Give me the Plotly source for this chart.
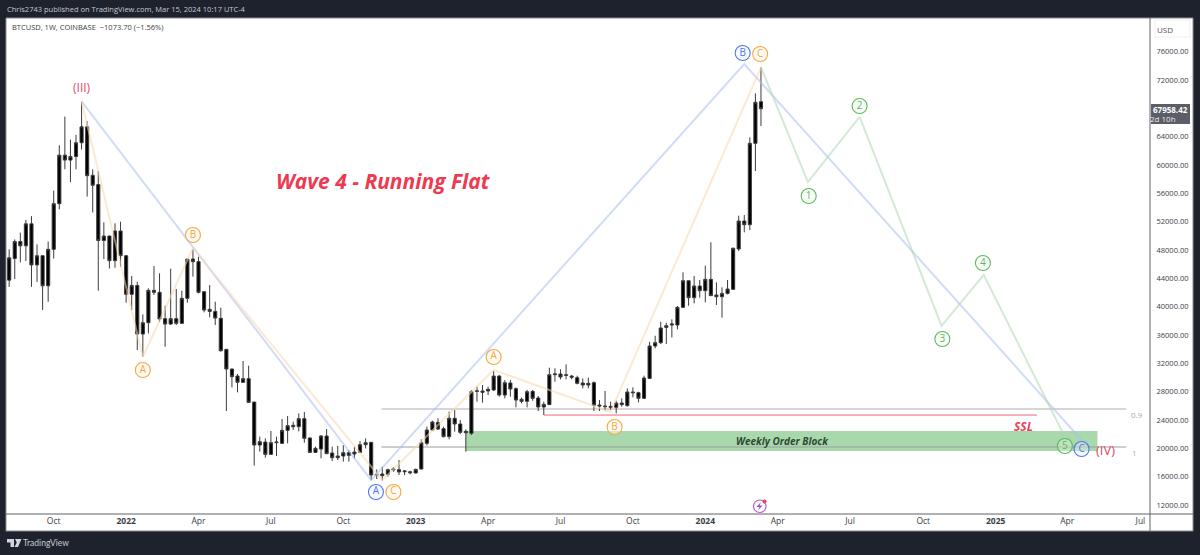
import pandas as pd
import plotly.graph_objects as go

# ---------- data ----------
first_week = "2021-08-09"
opens = [43750,46800,49200,48600,51700,45900,47200,42950,48100,54550,61400,60700,61200,63150,65400,58550,57250,49350,49980,46500,
50690,47200,41750,43000,36140,37740,42310,42030,38310,37550,38310,37650,41180,46730,46360,42120,39630,39340,38360,33980,
31200,30210,29320,29840,26540,20470,20890,19150,20800,20710,22540,23250,23060,24190,21460,19430,19900,21740,19340,18680,
18920,19390,19200,19430,20520,20850,16230,16380,16330,16940,16990,16700,16700,16520,17080,20710,22590,23670,22780,21650,
24240,23440,22210,22120,28050,28100,28100,28240,30210,27530,29230,28430,26920,26640,28050,27110,25840,26170,30400,30500,
30400,30210,29980,29230,28940,29270,26120,25980,25930,25790,26400,26030,27960,27860,27060,29880,34450,34920,37080,37410,
37410,39910,43670,41270,42920,42260,43860,41650,41410,41880,42450,48150,52100,51580,63070,68950]
closes = [46900,49200,48600,51700,45900,47200,42950,48100,54550,61400,60700,61200,63150,65400,58500,57150,49350,49980,46500,50690,
47200,41750,43000,36140,37740,42310,42030,38260,37550,38310,37650,41180,46730,46360,42030,39530,39340,38400,33790,31200,
30120,29320,29840,26490,20470,20940,19150,20800,20890,22540,23200,23060,24190,21410,19430,20000,21740,19250,18680,18920,
19390,19010,19480,20520,20800,16230,16330,16140,16990,17080,16660,16800,16560,17030,20800,22590,23720,22730,21650,24240,
23440,22260,22400,28000,28100,27910,28330,30210,27530,29270,28380,26820,26640,28000,27060,25840,26210,30400,30500,30070,
30310,30030,29180,28940,29180,26070,25980,25890,25790,26400,26170,27960,27860,27060,29930,34450,34920,36990,37320,37560,
39910,43670,41270,42920,42260,43860,41560,41410,41880,42500,48240,52100,51580,63070,68860,67958]
highs = [48100,49500,50450,52250,52800,48800,47200,49200,56400,62800,66850,63600,64250,68950,66200,59400,59150,51900,50030,51770,
52000,47300,44330,43530,38920,42590,45740,44710,40140,45370,42500,42260,46730,48100,47060,42220,43060,40710,39860,34030,
31250,30500,32330,31670,26540,21650,21410,22450,21650,24140,24560,23770,24940,25130,21550,20240,21880,22730,20240,20330,
20470,19770,20240,21040,21410,20890,17030,17410,17130,17320,18350,16940,16850,17130,21270,23060,23910,24240,23060,25180,
25410,24000,22680,28240,28710,28940,28710,30920,30360,29650,29650,28610,27160,28240,28240,27390,26590,31390,31300,31160,
31860,30360,30260,29880,29980,29460,26820,28100,26590,26730,27060,28470,28610,28000,30260,35060,35900,37880,37740,38210,
40100,44850,43670,44330,43770,45790,49090,43440,42730,43770,48380,52850,52950,63910,70130,73800]
lows = [42800,43900,46250,46450,42800,43500,39550,40700,46800,53750,59400,57600,59400,62200,55550,53300,42260,46730,45400,45500,
45650,40570,39530,33880,32940,36240,41650,37880,34350,37410,37410,37550,40570,44240,41880,39200,38500,37410,33650,25270,
28610,27910,29320,26490,17550,19530,18680,19060,18920,20610,20710,22590,22400,20800,19430,19390,18590,19200,18210,18350,
18120,18120,18590,19390,20000,15530,15670,15430,16000,16700,16230,16230,16330,16470,17030,20420,22490,22590,21550,21270,
22350,22020,19530,21880,26590,26450,27530,28100,27300,27060,27300,25790,26360,25790,26730,25270,24710,26120,29410,29740,
29740,29740,29040,28470,28470,25270,25270,25320,25410,24940,25890,25890,27200,26500,26970,29790,34120,34730,34730,35670,
36800,39810,40140,40470,41270,40610,41510,40240,38450,41740,42360,47860,50500,50830,59160,65510]

blue_x = ["2021-11-08","2022-11-07","2024-02-19","2025-04-18"]
blue_y = [69000,15500,74270,21180]
orange_x = ["2021-11-08","2022-01-24","2022-03-28","2022-11-21","2023-04-10","2023-09-04","2024-03-11"]
orange_y = [69000,32900,48290,15500,31060,25130,73800]
green_x = ["2024-03-11","2024-05-09","2024-07-13","2024-10-24","2024-12-16","2025-03-28"]
green_y = [73800,57600,66800,37300,44500,21600]

orange_lab_x = ["2022-01-24","2022-03-28","2023-04-10","2022-12-05","2023-09-09","2024-03-10"]
orange_lab_y = [31060,50120,32900,13840,23010,75680]
orange_lab = ["A","B","A","C","B","C"]
blue_lab_x = ["2022-11-13","2024-02-17","2025-04-18"]
blue_lab_y = [13840,75820,19900]
blue_lab = ["A","B","C"]
green_lab_x = ["2024-05-10","2024-07-13","2024-10-25","2024-12-15","2025-03-28"]
green_lab_y = [55630,68340,35440,46170,20330]
green_lab = ["1","2","3","4","5"]

fib_09 = 25560
fib_1 = 20190
fib_start, fib_end = "2022-11-20", "2025-06-13"
ssl_price = 24700
ssl_start, ssl_end = "2023-06-12", "2025-02-21"
block_low, block_high = 19630, 22450
block_start, block_end = "2023-03-06", "2025-05-08"

x_tick_dates = ["2021-10-04","2022-01-03","2022-04-04","2022-07-04","2022-10-03","2023-01-02","2023-04-03","2023-07-03",
                "2023-10-02","2024-01-01","2024-04-01","2024-07-01","2024-10-01","2024-12-31","2025-03-31","2025-07-01"]
x_tick_text = ["Oct","<b>2022</b>","Apr","Jul","Oct","<b>2023</b>","Apr","Jul","Oct","<b>2024</b>","Apr","Jul","Oct","<b>2025</b>","Apr","Jul"]
y_ticks = [12000,16000,20000,24000,28000,32000,36000,40000,44000,48000,52000,56000,60000,64000,72000,76000]

# ---------- styling ----------
DARK = "#1e222d"
FONT = "Open Sans"
AXTXT = "#3a3d45"
L, R, T, B = 6, 1150, 14, 514
def px(x): return (x - L) / (R - L)
def py(y): return (B - y) / (B - T)

weeks = pd.date_range(first_week, periods=len(opens), freq="7D")
fig = go.Figure()

for xs, ys, col in [(blue_x, blue_y, "rgba(170,192,240,0.55)"),
                    (orange_x, orange_y, "rgba(248,215,175,0.55)"),
                    (green_x, green_y, "rgba(175,215,175,0.55)")]:
    fig.add_trace(go.Scatter(x=xs, y=ys, mode="lines", line=dict(color=col, width=2), hoverinfo="skip", showlegend=False))

fig.add_trace(go.Candlestick(
    x=weeks, open=opens, high=highs, low=lows, close=closes,
    increasing=dict(line=dict(color="#3c3c3c", width=1), fillcolor="#000000"),
    decreasing=dict(line=dict(color="#3c3c3c", width=1), fillcolor="#000000"),
    whiskerwidth=0, hoverinfo="skip", showlegend=False))

for xs, ys, labs, col, fill in [(orange_lab_x, orange_lab_y, orange_lab, "#f5a742", "rgba(255,245,230,0.5)"),
                                (blue_lab_x, blue_lab_y, blue_lab, "#4f79e8", "rgba(235,240,255,0.4)"),
                                (green_lab_x, green_lab_y, green_lab, "#5cb85f", "rgba(235,248,235,0.35)")]:
    fig.add_trace(go.Scatter(x=xs, y=ys, mode="markers+text", text=labs, textposition="middle center",
                             textfont=dict(color=col, size=10, family=FONT),
                             marker=dict(size=15, color=fill, line=dict(color=col, width=1.1)),
                             hoverinfo="skip", showlegend=False))

shapes = [
    dict(type="rect", xref="paper", yref="paper", x0=0, x1=px(1193), y0=py(531), y1=py(18),
         fillcolor="#ffffff", line=dict(width=1, color="#8a8d94"), layer="below"),
    dict(type="rect", xref="x", yref="y", x0=block_start, x1=block_end, y0=block_low, y1=block_high,
         fillcolor="rgba(110,190,115,0.6)", line=dict(width=0), layer="below"),
    dict(type="line", xref="x", yref="y", x0=fib_start, x1=fib_end, y0=fib_09, y1=fib_09, line=dict(color="#c9c9c9", width=1.4), layer="below"),
    dict(type="line", xref="x", yref="y", x0=fib_start, x1=fib_end, y0=fib_1, y1=fib_1, line=dict(color="#9a9f9a", width=1), layer="below"),
    dict(type="line", xref="x", yref="y", x0=ssl_start, x1=ssl_end, y0=ssl_price, y1=ssl_price, line=dict(color="#f0657c", width=1), layer="below"),
    dict(type="line", xref="paper", yref="paper", x0=1, x1=1, y0=py(531), y1=py(18), line=dict(color="#60636b", width=1)),
    dict(type="line", xref="paper", yref="paper", x0=0, x1=px(1193), y0=0, y1=0, line=dict(color="#60636b", width=1)),
    # USD box
    dict(type="rect", xref="paper", yref="paper", x0=px(1155), x1=px(1190), y0=py(37), y1=py(20), fillcolor="#ffffff", line=dict(color="#f0f0f0", width=1)),
    # price tag
    dict(type="rect", xref="paper", yref="paper", x0=px(1151), x1=px(1190), y0=py(124), y1=py(104), fillcolor="#5b5d68", line=dict(width=0)),
    # alert icon
    dict(type="circle", xref="paper", yref="paper", x0=px(753.5), x1=px(766), y0=py(512.5), y1=py(500), fillcolor="#ffffff", line=dict(color="#c060d8", width=1.2)),
    dict(type="circle", xref="paper", yref="paper", x0=px(762.5), x1=px(766.5), y0=py(503.5), y1=py(499.5), fillcolor="#f04050", line=dict(width=0)),
    dict(type="path", xref="paper", yref="paper", fillcolor="#8a50c8", line=dict(width=0),
         path=f"M {px(761)} {py(502)} L {px(756.5)} {py(507)} L {px(759.5)} {py(507)} L {px(758)} {py(510.5)} L {px(762.5)} {py(505.5)} L {px(759.5)} {py(505.5)} Z"),
    # logo
    dict(type="path", xref="paper", yref="paper", fillcolor="#d1d4dc", line=dict(width=0),
         path=f"M {px(7)} {py(539)} L {px(14)} {py(539)} L {px(14)} {py(547)} L {px(10.5)} {py(547)} L {px(10.5)} {py(542.5)} L {px(7)} {py(542.5)} Z"),
    dict(type="path", xref="paper", yref="paper", fillcolor="#d1d4dc", line=dict(width=0),
         path=f"M {px(15)} {py(539)} L {px(21.5)} {py(539)} L {px(18)} {py(547)} L {px(14.5)} {py(547)} L {px(16.8)} {py(542.5)} Z"),
]

def note(text, x, y, size, color, **kw):
    return dict(xref="paper", yref="paper", x=px(x), y=py(y), text=text, showarrow=False,
                font=dict(size=size, color=color, family=kw.pop("family", FONT)),
                xanchor=kw.pop("xanchor", "center"), yanchor="middle", **kw)

annotations = [
    note("Chris2743 published on TradingView.com, Mar 15, 2024 10:17 UTC-4", 5, 9, 7.5, "#c5c8d0", xanchor="left"),
    note("BTCUSD, 1W, COINBASE  −1073.70 (−1.56%)", 9.5, 27, 7.5, "#3a3d45", xanchor="left"),
    note("<b><i>Wave 4 - Running Flat</i></b>", 383, 181, 21, "#ee3a50"),
    note("<b><i>Weekly Order Block</i></b>", 782, 441, 10, "#2d4a35"),
    note("<b><i>SSL</i></b>", 1023, 426, 12, "#ee4056"),
    note("(III)", 82, 87, 12, "#e04a64"),
    note("(IV)", 1105, 450, 13, "#e04a64"),
    note("0.9", 1137, 414, 8, "#a8a8a8"),
    note("1", 1134, 452, 8, "#a8a8a8"),
    note("USD", 1165, 29, 8, "#50535b"),
    note("<b>67958.42</b>", 1170, 109.5, 8, "#ffffff"),
    note("2d 10h", 1163, 118.5, 8, "#e8e8ea"),
    note("TradingView", 21, 543, 8.5, "#c8ccd4", xanchor="left", family="Lato"),
]

fig.update_layout(
    width=1200, height=555, autosize=False,
    margin=dict(l=L, r=1200 - R, t=T, b=555 - B, pad=0),
    paper_bgcolor=DARK, plot_bgcolor="rgba(0,0,0,0)",
    font=dict(family=FONT, size=8, color=AXTXT),
    showlegend=False, shapes=shapes, annotations=annotations, boxgap=0.2,
    xaxis=dict(type="date", range=["2021-08-05", "2025-07-13"], rangeslider=dict(visible=False),
               tickmode="array", tickvals=x_tick_dates, ticktext=x_tick_text, tickangle=0,
               showgrid=False, zeroline=False, showline=False, ticks="", ticklen=0,
               tickfont=dict(size=8.5, color=AXTXT, family=FONT)),
    yaxis=dict(side="right", range=[10730, 81330], tickmode="array", tickvals=y_ticks,
               ticktext=[f"{v}.00" for v in y_ticks],
               showgrid=False, zeroline=False, showline=False, ticks="outside", ticklen=4, tickcolor="rgba(0,0,0,0)",
               tickfont=dict(size=7.5, color=AXTXT, family=FONT)),
)
fig.write_html("out.html", config=dict(displayModeBar=False),
               post_script="document.body.style.margin='0';document.body.style.overflow='hidden';document.body.style.background='#1e222d';")
